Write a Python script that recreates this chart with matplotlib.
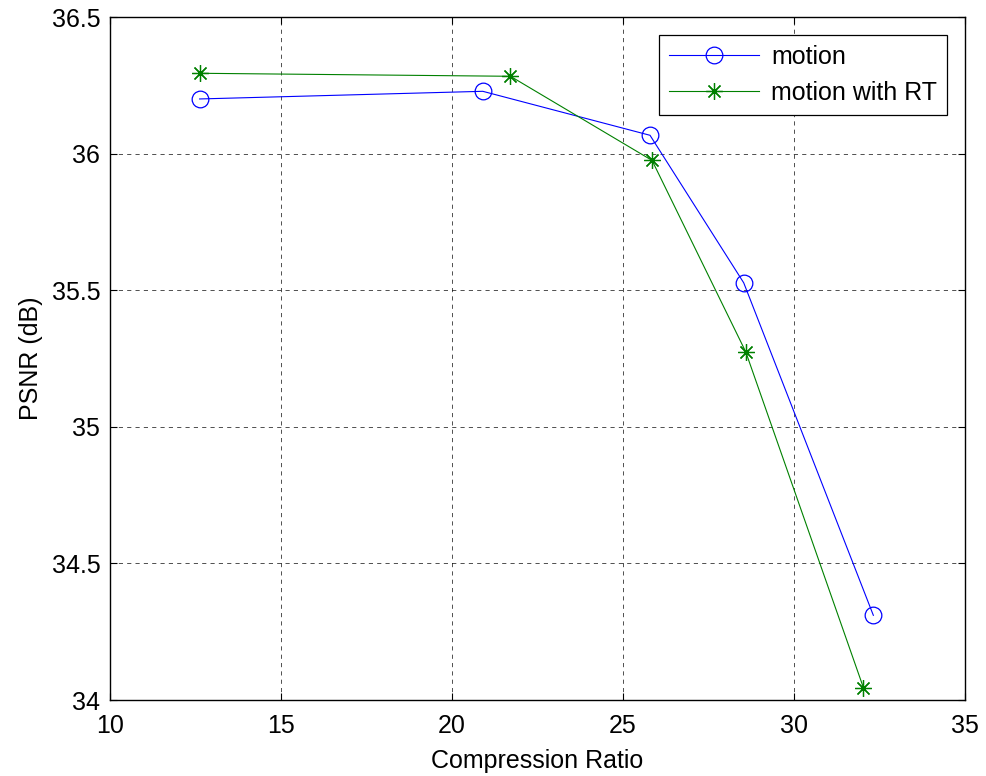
import matplotlib
matplotlib.use("Agg")
import matplotlib.pyplot as plt

plt.rcParams['font.family'] = ['Liberation Sans', 'DejaVu Sans']

motion_x = [12.62, 20.90, 25.79, 28.53, 32.32]
motion_y = [36.20, 36.228, 36.067, 35.527, 34.31]
rt_x = [12.62, 21.71, 25.85, 28.59, 32.03]
rt_y = [36.294, 36.283, 35.975, 35.274, 34.045]

xticks = [10, 15, 20, 25, 30, 35]
yticks = [34, 34.5, 35, 35.5, 36, 36.5]
ytick_labels = ['34', '34.5', '35', '35.5', '36', '36.5']

fig = plt.figure(figsize=(9.87, 7.76), dpi=100)
ax = fig.add_axes([110/987, 1-700/776, (965-110)/987, (700-17)/776])

ax.plot(motion_x, motion_y, color='#0000ff', lw=0.8, marker='o', ms=12,
        mfc='none', mec='#0000ff', mew=0.9, label='motion')
ax.plot(rt_x, rt_y, color='#008000', lw=0.8, marker=(8, 2, 0), ms=12,
        mfc='none', mec='#008000', mew=0.9, label='motion with RT')

ax.set_xlim(10, 35)
ax.set_ylim(34, 36.5)
ax.set_xticks(xticks)
ax.set_yticks(yticks)
ax.set_yticklabels(ytick_labels)
ax.tick_params(direction='in', top=True, right=True, labelsize=18, length=5, width=0.8)
ax.tick_params(axis='x', pad=10)
ax.tick_params(axis='y', pad=7)
ax.grid(True, color='black', linestyle=(0, (5, 5)), lw=0.6, alpha=0.8)
for s in ax.spines.values():
    s.set_linewidth(1.0)

ax.set_xlabel('Compression Ratio', fontsize=18, labelpad=8)
ax.set_ylabel('PSNR (dB)', fontsize=18, labelpad=6)

leg = ax.legend(loc='upper right', fontsize=18, fancybox=False, framealpha=1,
                edgecolor='black', borderaxespad=0.7, handlelength=3.6,
                borderpad=0.4, labelspacing=0.5, handletextpad=0.5)
leg.get_frame().set_linewidth(0.9)

fig.savefig('out.png', dpi=100)
